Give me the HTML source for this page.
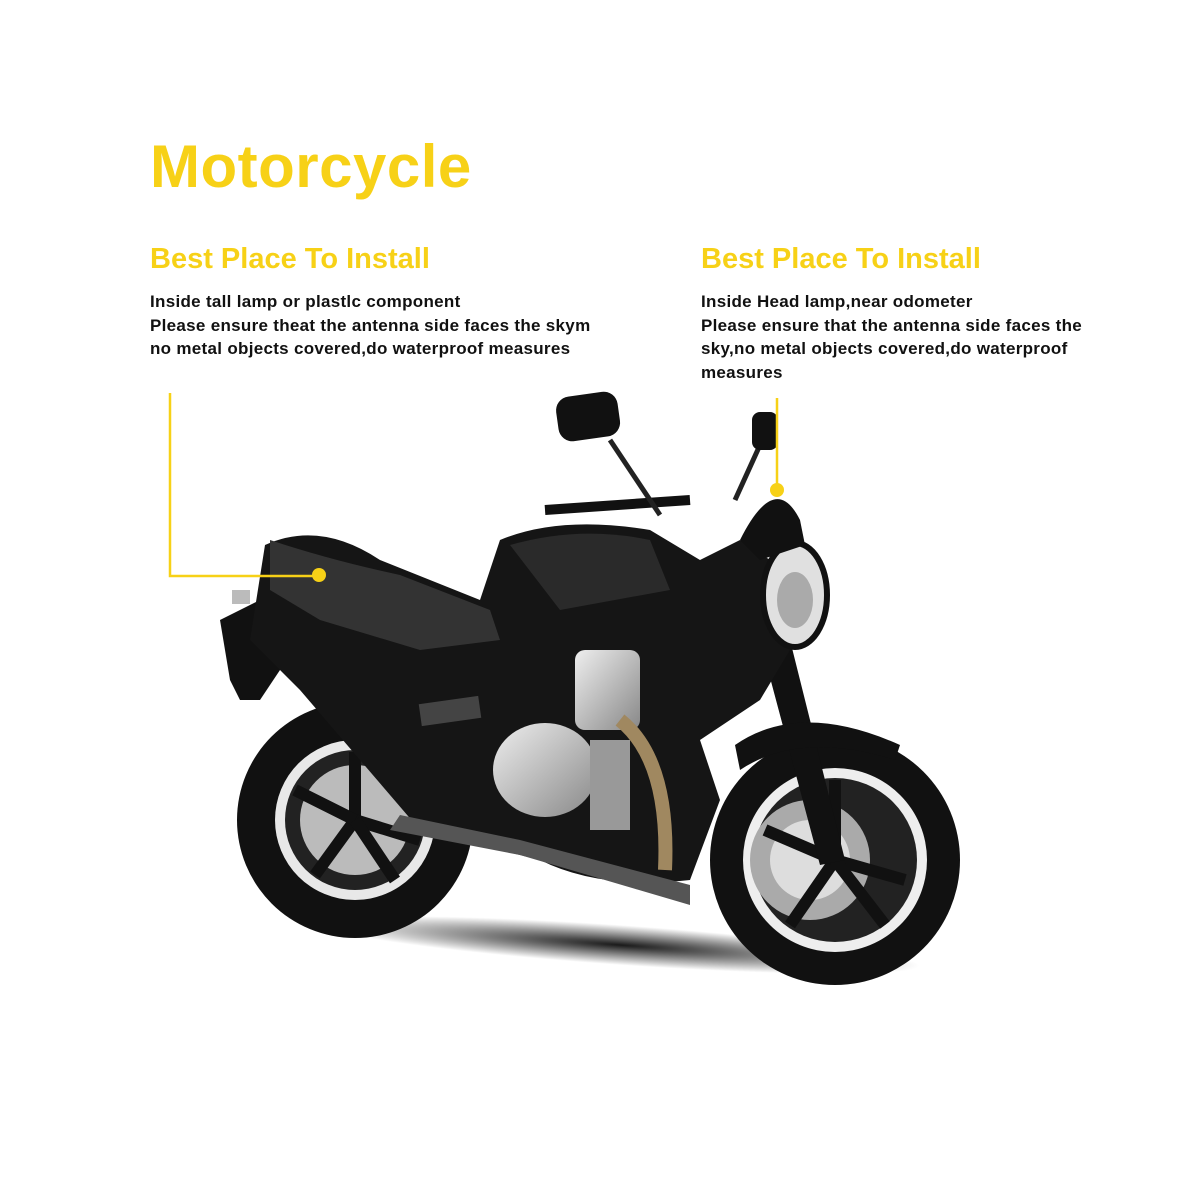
<!DOCTYPE html>
<html><head><meta charset="utf-8"><style>
html,body{margin:0;padding:0;background:#fff;}
body{width:1200px;height:1200px;position:relative;overflow:hidden;font-family:"Liberation Sans",sans-serif;}
.t{position:absolute;color:#f7d117;font-weight:bold;}
.p{position:absolute;color:#111;font-size:17px;line-height:23.5px;font-weight:bold;letter-spacing:0.3px;white-space:nowrap;}
</style></head><body>
<div class="t" style="left:150px;top:132px;font-size:60px;letter-spacing:0.5px;">Motorcycle</div>
<div class="t" style="left:150px;top:243px;font-size:29px;">Best Place To Install</div>
<div class="t" style="left:701px;top:243px;font-size:29px;">Best Place To Install</div>
<div class="p" style="left:150px;top:290px;">Inside tall lamp or plastlc component<br>Please ensure theat the antenna side faces the skym<br>no metal objects covered,do waterproof measures</div>
<div class="p" style="left:701px;top:290px;">Inside Head lamp,near odometer<br>Please ensure that the antenna side faces the<br>sky,no metal objects covered,do waterproof<br>measures</div>
<svg width="1200" height="1200" style="position:absolute;left:0;top:0">
<defs>
<radialGradient id="sh" cx="0.5" cy="0.5" r="0.5"><stop offset="0" stop-color="#000" stop-opacity="0.9"/><stop offset="1" stop-color="#000" stop-opacity="0"/></radialGradient>
<linearGradient id="eng" x1="0" y1="0" x2="1" y2="1"><stop offset="0" stop-color="#eee"/><stop offset="1" stop-color="#888"/></linearGradient>
</defs>
<ellipse cx="620" cy="945" rx="300" ry="20" fill="url(#sh)" transform="rotate(4 620 945)"/>
<circle cx="355" cy="820" r="118" fill="#111"/>
<circle cx="355" cy="820" r="80" fill="#e8e8e8"/>
<circle cx="355" cy="820" r="70" fill="#222"/>
<circle cx="355" cy="820" r="55" fill="#bbb"/>
<g stroke="#111" stroke-width="12"><line x1="355" y1="820" x2="355" y2="752"/><line x1="355" y1="820" x2="420" y2="840"/><line x1="355" y1="820" x2="315" y2="875"/><line x1="355" y1="820" x2="295" y2="790"/><line x1="355" y1="820" x2="395" y2="880"/></g>
<circle cx="835" cy="860" r="125" fill="#111"/>
<circle cx="835" cy="860" r="92" fill="#eee"/>
<circle cx="835" cy="860" r="82" fill="#222"/>
<circle cx="810" cy="860" r="60" fill="#aaa"/>
<circle cx="810" cy="860" r="40" fill="#ddd"/>
<g stroke="#111" stroke-width="12"><line x1="835" y1="860" x2="835" y2="780"/><line x1="835" y1="860" x2="905" y2="880"/><line x1="835" y1="860" x2="790" y2="925"/><line x1="835" y1="860" x2="765" y2="830"/><line x1="835" y1="860" x2="885" y2="925"/></g>
<polygon points="760,640 790,640 845,860 820,865" fill="#111"/>
<path d="M735,745 Q800,700 900,745 L895,760 Q800,730 740,770Z" fill="#111"/>
<polygon points="220,620 260,600 300,640 260,700 240,700 230,680" fill="#111"/>
<rect x="232" y="590" width="18" height="14" fill="#bbb"/>
<path d="M265,545 Q320,520 380,560 L480,600 L500,540 Q560,515 650,530 L700,560 L740,540 L770,560 L790,650 L760,700 L700,740 L720,800 L690,880 Q600,890 540,860 L420,830 L360,760 L300,690 L250,640Z" fill="#151515"/>
<path d="M270,540 Q330,560 400,575 L490,610 L500,640 L420,650 L320,620 L270,590Z" fill="#333"/>
<path d="M510,545 Q580,525 650,540 L670,590 L560,610Z" fill="#2a2a2a"/>
<ellipse cx="545" cy="770" rx="52" ry="47" fill="url(#eng)"/>
<rect x="575" y="650" width="65" height="80" rx="10" fill="url(#eng)"/>
<rect x="590" y="740" width="40" height="90" fill="#999"/>
<path d="M620,720 Q670,760 665,870" stroke="#a08860" stroke-width="14" fill="none"/>
<path d="M390,830 L520,855 L690,905 L690,885 L520,840 L400,815Z" fill="#555"/>
<rect x="420" y="700" width="60" height="22" fill="#444" transform="rotate(-8 450 711)"/>
<ellipse cx="795" cy="595" rx="32" ry="52" fill="#e0e0e0" stroke="#111" stroke-width="6"/>
<ellipse cx="795" cy="600" rx="18" ry="28" fill="#aaa"/>
<path d="M740,540 Q775,470 800,520 L805,545 L760,560Z" fill="#111"/>
<line x1="545" y1="510" x2="690" y2="500" stroke="#111" stroke-width="10"/>
<line x1="610" y1="440" x2="660" y2="515" stroke="#222" stroke-width="5"/>
<rect x="557" y="394" width="62" height="45" rx="14" fill="#111" transform="rotate(-8 588 416)"/>
<line x1="760" y1="445" x2="735" y2="500" stroke="#222" stroke-width="5"/>
<rect x="752" y="412" width="26" height="38" rx="8" fill="#111"/>
<g stroke="#f7d117" stroke-width="2.5" fill="none">
<polyline points="170,393 170,576 319,576"/>
<line x1="777" y1="398" x2="777" y2="490"/>
</g>
<circle cx="319" cy="575" r="7" fill="#f7d117"/>
<circle cx="777" cy="490" r="7" fill="#f7d117"/>
</svg>
</body></html>
